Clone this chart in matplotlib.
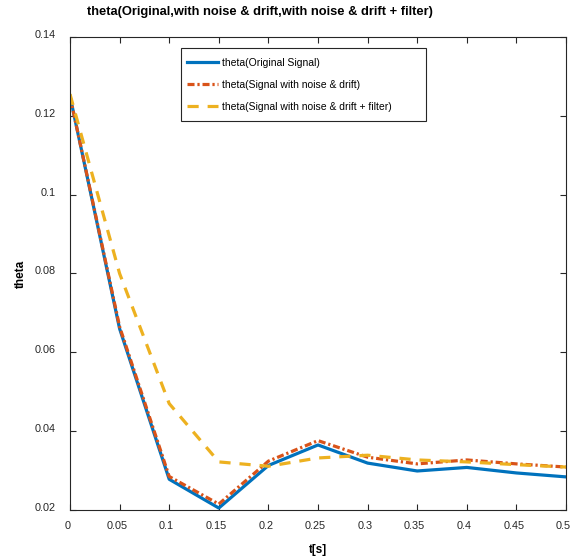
import matplotlib
matplotlib.use('Agg')
import matplotlib.pyplot as plt
import matplotlib.transforms as mtransforms
from matplotlib.patches import Rectangle

plt.rcParams['font.family'] = ['Liberation Sans', 'DejaVu Sans']

t = [0, 0.05, 0.1, 0.15, 0.2, 0.25, 0.3, 0.35, 0.4, 0.45, 0.5]
theta_orig = [0.125, 0.066, 0.0278, 0.0205, 0.0313, 0.0365, 0.0319, 0.0299, 0.0308, 0.0294, 0.0284]
theta_noise = [0.125, 0.0665, 0.0285, 0.0215, 0.0324, 0.0376, 0.0334, 0.0317, 0.0327, 0.0317, 0.0309]
theta_filt = [0.1255, 0.080, 0.047, 0.0322, 0.0311, 0.0332, 0.0339, 0.0327, 0.0322, 0.0315, 0.0309]

labels = ['theta(Original Signal)',
          'theta(Signal with noise & drift)',
          'theta(Signal with noise & drift + filter)']
xticks = [0, 0.05, 0.1, 0.15, 0.2, 0.25, 0.3, 0.35, 0.4, 0.45, 0.5]
xticklabels = ['0', '0.05', '0.1', '0.15', '0.2', '0.25', '0.3', '0.35', '0.4', '0.45', '0.5']
yticks = [0.02, 0.04, 0.06, 0.08, 0.1, 0.12, 0.14]
yticklabels = ['0.02', '0.04', '0.06', '0.08', '0.1', '0.12', '0.14']

W, H = 570, 557
fig = plt.figure(figsize=(W / 100, H / 100), dpi=100)
ax = fig.add_axes([70 / W, 1 - 510 / H, 496 / W, 473 / H])

ax.plot(t, theta_orig, color='#0072BD', lw=2.3, label=labels[0])
ax.plot(t, theta_noise, color='#D95319', lw=2.3, ls=(0, (2.2, 0.9, 0.7, 0.9)), label=labels[1])
ax.plot(t, theta_filt, color='#EDB120', lw=2.3, ls=(0, (3.5, 2.8)), label=labels[2])

ax.set_xlim(0, 0.5)
ax.set_ylim(0.02, 0.14)
ax.set_xticks(xticks)
ax.set_xticklabels(xticklabels)
ax.set_yticks(yticks)
ax.set_yticklabels(yticklabels)
ax.tick_params(direction='in', length=4, width=0.8, top=True, right=True,
               labelsize=7.8, colors='#262626')
ax.tick_params(axis='x', pad=8)
ax.tick_params(axis='y', pad=10)
for sp in ax.spines.values():
    sp.set_color('#262626')
    sp.set_linewidth(0.8)

# shift tick labels slightly like the original rendering
dy = mtransforms.ScaledTranslation(0, 3 / 100, fig.dpi_scale_trans)
for lab in ax.get_yticklabels():
    lab.set_transform(lab.get_transform() + dy)
dx = mtransforms.ScaledTranslation(-2.6 / 100, 0, fig.dpi_scale_trans)
for lab in ax.get_xticklabels():
    lab.set_transform(lab.get_transform() + dx)

ax.set_xlabel('t[s]', fontweight='bold', fontsize=8.5, labelpad=9)
ax.set_ylabel('theta', fontweight='bold', fontsize=8.5, labelpad=6)

fig.text(260 / W, 1 - 12 / H, 'theta(Original,with noise & drift,with noise & drift + filter)',
         ha='center', va='center', fontweight='bold', fontsize=9.3)

# legend box (MATLAB style, wide frame)
ax.add_patch(Rectangle(((181 - 70) / 496, 1 - (121 - 37) / 473), 245 / 496, 73 / 473,
                       transform=ax.transAxes, facecolor='white', edgecolor='#262626',
                       lw=0.8, zorder=4))
leg = ax.legend(loc='upper left', bbox_to_anchor=((187 - 70) / 496, 1 - (58 - 37) / 473),
                fontsize=7.5, frameon=False, handlelength=3.0, handletextpad=0.4,
                borderpad=0, borderaxespad=0, labelspacing=1.15)
leg.set_zorder(5)

fig.savefig('out.png', dpi=100)
